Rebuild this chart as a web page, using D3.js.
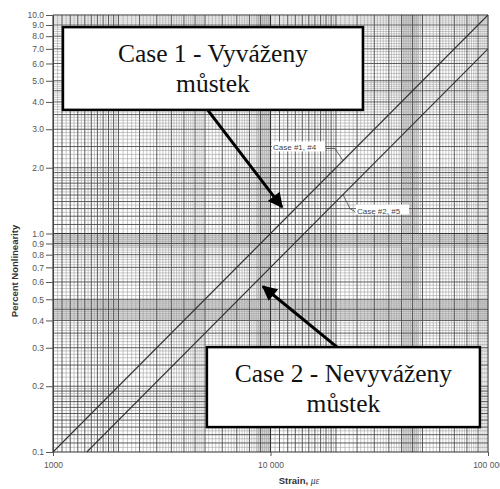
<!DOCTYPE html>
<html>
<head>
<meta charset="utf-8">
<script src="https://cdn.jsdelivr.net/npm/d3@7"></script>
<style>
  body { margin: 0; background: #fff; }
  svg { display: block; }
</style>
</head>
<body>
<div id="chart"></div>
<script>
// data ----------------------------------------------------------------------------------
const xDomain = [1000, 100000];
const yDomain = [0.1, 10];
const xTickValues = [1000, 10000, 100000];
const xTickLabels = ['1000', '10 000', '100 000'];
const yTickValues = [0.1, 0.2, 0.3, 0.4, 0.5, 0.6, 0.7, 0.8, 0.9, 1, 2, 3, 4, 5, 6, 7, 8, 9, 10];
const yTickLabels = ['0.1', '0.2', '0.3', '0.4', '0.5', '0.6', '0.7', '0.8', '0.9', '1.0',
    '2.0', '3.0', '4.0', '5.0', '6.0', '7.0', '8.0', '9.0', '10.0'];

// the two curves (strain, percent)
const case1 = [[1000, 0.1], [100000, 10]];
const case2 = [[1430, 0.1], [100000, 6.99]];

// shaded bands on the paper
const xBands = [[8600, 10000], [40000, 48000]];
const yBands = [[0.86, 1.0], [0.4, 0.5]];

// callouts in data units
const boxes = [
    { x0: 1111, x1: 26600, y0: 8.8, y1: 3.68, lines: ['Case 1 - Vyváženy', 'můstek'] },
    { x0: 5100, x1: 91800, y0: 0.302, y1: 0.13, lines: ['Case 2 - Nevyváženy', 'můstek'] }
];
const arrows = [
    { from: [5106, 3.71], to: [11290, 1.32] },
    { from: [20240, 0.302], to: [9230, 0.572] }
];
const smallLabels = [
    { text: 'Case #1, #4', at: [10270, 2.45], leader: [[17990, 2.45], [19800, 2.45], [21540, 2.154]] },
    { text: 'Case #2, #5', at: [24980, 1.26], leader: [[21540, 1.506], [23200, 1.30], [24460, 1.26]] }
];

// layout -------------------------------------------------------------------------------
const width = 500;
const height = 489;
const margin = { top: 15, right: 12, bottom: 37, left: 53 };

const svg = d3.select('#chart')
    .append('svg')
    .attr('width', width)
    .attr('height', height);

const xScale = d3.scaleLog().domain(xDomain).range([margin.left, width - margin.right]);
const yScale = d3.scaleLog().domain(yDomain).range([height - margin.bottom, margin.top]);

// grid values: log paper subdivisions per decade
function paperLines(lo, hi) {
    const minor = [], major = [], decade = [];
    for (let d = lo; d < hi; d *= 10) {
        decade.push(d);
        for (let m = 1; m < 10 - 1e-9;) {
            const step = m < 2 ? 0.05 : (m < 5 ? 0.1 : 0.2);
            m = Math.round((m + step) * 100) / 100;
            if (m >= 10) break;
            const isMajor = m < 2 ? Math.abs(m * 10 - Math.round(m * 10)) < 1e-6
                : (m < 5 ? Math.abs(m * 2 - Math.round(m * 2)) < 1e-6 : Math.abs(m - Math.round(m)) < 1e-6);
            (isMajor ? major : minor).push(d * m);
        }
    }
    decade.push(hi);
    return { minor, major, decade };
}

const gx = paperLines(xDomain[0], xDomain[1]);
const gy = paperLines(yDomain[0], yDomain[1]);
const [x0, x1] = xScale.range();
const [y0, y1] = yScale.range();

const grid = svg.append('g');

grid.selectAll('.xband').data(xBands).join('rect')
    .attr('x', d => xScale(d[0])).attr('width', d => xScale(d[1]) - xScale(d[0]))
    .attr('y', y1).attr('height', y0 - y1)
    .attr('fill', '#d8d8d8');
grid.selectAll('.yband').data(yBands).join('rect')
    .attr('y', d => yScale(d[1])).attr('height', d => yScale(d[0]) - yScale(d[1]))
    .attr('x', x0).attr('width', x1 - x0)
    .attr('fill', '#d8d8d8');

function drawGrid(vals, color, w) {
    grid.append('g').selectAll('line').data(vals).join('line')
        .attr('x1', d => xScale(d)).attr('x2', d => xScale(d))
        .attr('y1', y0).attr('y2', y1)
        .attr('stroke', color).attr('stroke-width', w);
}
function drawGridY(vals, color, w) {
    grid.append('g').selectAll('line').data(vals).join('line')
        .attr('y1', d => yScale(d)).attr('y2', d => yScale(d))
        .attr('x1', x0).attr('x2', x1)
        .attr('stroke', color).attr('stroke-width', w);
}
drawGrid(gx.minor, '#a0a0a0', 0.6);
drawGridY(gy.minor, '#a0a0a0', 0.6);
drawGrid(gx.major, '#4a4a4a', 0.9);
drawGridY(gy.major, '#4a4a4a', 0.9);
drawGrid(gx.decade, '#333', 1.1);
drawGridY(gy.decade, '#333', 1.1);

// axes ---------------------------------------------------------------------------------
const yAxis = svg.append('g')
    .attr('transform', `translate(${margin.left},0)`)
    .call(d3.axisLeft(yScale).tickValues(yTickValues).tickSize(7).tickPadding(2)
        .tickFormat((d, i) => yTickLabels[i]));
yAxis.select('.domain').attr('stroke', '#444');
yAxis.selectAll('.tick line').attr('stroke', '#555');
yAxis.selectAll('text')
    .attr('fill', '#555').attr('font-size', 8.5).attr('font-family', 'Liberation Sans, Arial, sans-serif');

const xAxis = svg.append('g')
    .attr('transform', `translate(0,${height - margin.bottom})`)
    .call(d3.axisBottom(xScale).tickValues(xTickValues).tickSize(4).tickPadding(6)
        .tickFormat((d, i) => xTickLabels[i]));
xAxis.select('.domain').remove();
xAxis.selectAll('.tick line').attr('stroke', '#555');
xAxis.selectAll('text')
    .attr('fill', '#555').attr('font-size', 8.5).attr('font-family', 'Liberation Sans, Arial, sans-serif');

svg.append('text')
    .attr('x', 299).attr('y', 484)
    .attr('text-anchor', 'middle')
    .attr('font-family', 'Liberation Sans, Arial, sans-serif')
    .attr('font-size', 9.5).attr('font-weight', 'bold').attr('fill', '#333')
    .html('Strain, <tspan font-style="italic" font-weight="normal" font-family="Liberation Serif, serif">με</tspan>');

svg.append('text')
    .attr('transform', 'rotate(-90)')
    .attr('x', -271).attr('y', 18)
    .attr('text-anchor', 'middle')
    .attr('font-family', 'Liberation Sans, Arial, sans-serif')
    .attr('font-size', 9.5).attr('font-weight', 'bold').attr('fill', '#333')
    .text('Percent Nonlinearity');

// curves -------------------------------------------------------------------------------
const line = d3.line().x(d => xScale(d[0])).y(d => yScale(d[1]));
svg.selectAll('.curve').data([case1, case2]).join('path')
    .attr('d', line)
    .attr('fill', 'none').attr('stroke', '#333').attr('stroke-width', 1.1);

// small callouts
const sl = svg.append('g').selectAll('g').data(smallLabels).join('g');
sl.append('path')
    .attr('d', d => line(d.leader))
    .attr('fill', 'none').attr('stroke', '#444').attr('stroke-width', 0.8);
sl.append('rect')
    .attr('x', d => xScale(d.at[0]) - 1).attr('y', d => yScale(d.at[1]) - 7)
    .attr('width', 53).attr('height', 10).attr('fill', '#fff');
sl.append('text')
    .attr('x', d => xScale(d.at[0])).attr('y', d => yScale(d.at[1]) + 2)
    .attr('font-family', 'Liberation Sans, Arial, sans-serif')
    .attr('font-size', 8).attr('fill', '#444')
    .text(d => d.text);

// annotation boxes and arrows ----------------------------------------------------------
svg.append('defs').append('marker')
    .attr('id', 'head').attr('viewBox', '0 0 10 10')
    .attr('refX', 9).attr('refY', 5)
    .attr('markerWidth', 6).attr('markerHeight', 5)
    .attr('markerUnits', 'strokeWidth')
    .attr('orient', 'auto')
    .append('path').attr('d', 'M0,0 L10,5 L0,10 Z').attr('fill', '#000');

svg.selectAll('.arrow').data(arrows).join('line')
    .attr('x1', d => xScale(d.from[0])).attr('y1', d => yScale(d.from[1]))
    .attr('x2', d => xScale(d.to[0])).attr('y2', d => yScale(d.to[1]))
    .attr('stroke', '#000').attr('stroke-width', 3)
    .attr('marker-end', 'url(#head)');

const bx = svg.append('g').selectAll('g').data(boxes).join('g');
bx.append('rect')
    .attr('x', d => xScale(d.x0)).attr('y', d => yScale(d.y0))
    .attr('width', d => xScale(d.x1) - xScale(d.x0))
    .attr('height', d => yScale(d.y1) - yScale(d.y0))
    .attr('fill', '#fff').attr('stroke', '#000').attr('stroke-width', 2.5);
bx.each(function(d) {
    const cx = (xScale(d.x0) + xScale(d.x1)) / 2;
    const top = yScale(d.y0);
    d3.select(this).selectAll('text').data(d.lines).join('text')
        .attr('x', cx).attr('y', (t, i) => top + 35 + i * 30)
        .attr('text-anchor', 'middle')
        .attr('font-family', 'Liberation Serif, Times New Roman, serif')
        .attr('font-size', 25.5).attr('fill', '#111')
        .text(t => t);
});
</script>
</body>
</html>
